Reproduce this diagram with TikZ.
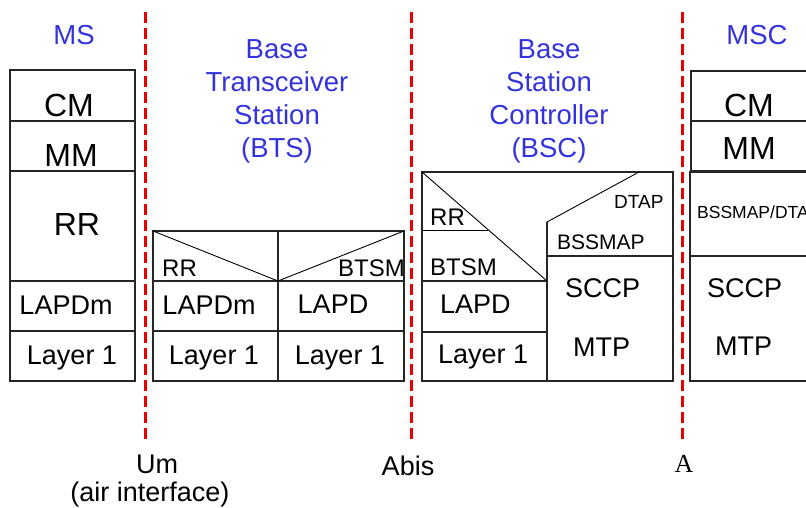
\documentclass[tikz,border=0pt]{standalone}
\usepackage{fontspec}
\setmainfont{Liberation Sans}
\newfontfamily\serifA{Liberation Serif}
\definecolor{ttlblue}{RGB}{51,51,221}
\definecolor{ifred}{RGB}{235,0,0}

\begin{document}
\begin{tikzpicture}[x=1pt, y=-1pt,
    stack/.style={draw=black!85, line width=1.2pt},
    slant/.style={draw=black, line width=0.9pt},
    iface/.style={draw=ifred, line width=3pt, dash pattern=on 11pt off 5pt},
    ttl/.style={text=ttlblue, inner sep=0pt, align=center, font=\fontsize{27.5}{33}\selectfont},
    lblbig/.style={anchor=base, inner sep=0pt, font=\fontsize{32}{36}\selectfont},
    lblmid/.style={anchor=base, inner sep=0pt, font=\fontsize{27}{30}\selectfont},
    lblsmall/.style={anchor=base, inner sep=0pt, font=\fontsize{24}{28}\selectfont},
    lbltiny/.style={anchor=base, inner sep=0pt, font=\fontsize{19}{22}\selectfont}
  ]
\useasboundingbox (0,0) rectangle (806,508);

% Titles
\node[ttl, anchor=base] (ms-ttl) at (74,45) {MS};
\node[ttl, anchor=north] (bts-ttl) at (277,39) {Base\\Transceiver\\Station\\(BTS)};
\node[ttl, anchor=north] (bsc-ttl) at (549,39) {Base\\Station\\Controller\\(BSC)};
\node[ttl, anchor=base] (msc-ttl) at (757,45) {MSC};

% MS stack
\draw[stack] (10,70) rectangle (135,381);
\foreach \y in {121,171,281,331} \draw[stack] (10,\y) -- (135,\y);
\node[lblbig] (ms-cm) at (69,117) {CM};
\node[lblbig] (ms-mm) at (71,167) {MM};
\node[lblbig] (ms-rr) at (77,235) {RR};
\node[lblmid] (ms-lapdm) at (66,314) {LAPDm};
\node[lblmid] (ms-l1) at (72,364) {Layer 1};

% BTS stack
\draw[stack] (153,231) rectangle (404,381);
\draw[stack] (278,231) -- (278,381);
\foreach \y in {281,331} \draw[stack] (153,\y) -- (404,\y);
\draw[slant] (153,231) -- (278,281) -- (404,231);
\node[lblsmall, anchor=base west] (bts-rr) at (162,276) {RR};
\node[lblsmall, anchor=base east] (bts-btsm) at (405,276) {BTSM};
\node[lblmid] (bts-lapdm) at (209,314) {LAPDm};
\node[lblmid] (bts-lapd) at (333,313) {LAPD};
\node[lblmid] (bts-l1a) at (214,364) {Layer 1};
\node[lblmid] (bts-l1b) at (340,364) {Layer 1};

% BSC stack
\draw[stack] (422,172) rectangle (673,381);
\draw[slant] (639,172) -- (547,222);
\draw[stack] (547,222) -- (547,381);
\draw[stack] (547,256) -- (673,256);
\draw[stack] (422,281) -- (547,281) (422,332) -- (547,332);
\draw[slant] (422,230) -- (488,230);
\draw[slant] (422,172) -- (547,281);
\node[lblsmall, anchor=base west] (bsc-rr) at (430,225) {RR};
\node[lblsmall, anchor=base west] (bsc-btsm) at (430,275) {BTSM};
\node[lblmid, anchor=base west] (bsc-lapd) at (440,313) {LAPD};
\node[lblmid, anchor=base west] (bsc-l1) at (438,363) {Layer 1};
\node[lbltiny, anchor=base west] (bsc-dtap) at (614,208) {DTAP};
\node[lbltiny, anchor=base west, font=\fontsize{21}{24}\selectfont] (bsc-bssmap) at (557,249) {BSSMAP};
\node[lblmid, anchor=base west] (bsc-sccp) at (565,297) {SCCP};
\node[lblmid, anchor=base west] (bsc-mtp) at (573,356) {MTP};

% MSC stack
\draw[stack] (691,71) rectangle (815,171);
\draw[stack] (691,121) -- (815,121);
\draw[stack] (690,172) rectangle (815,381);
\draw[stack] (690,256) -- (815,256);
\node[lblbig] (msc-cm) at (749,117) {CM};
\node[lblbig] (msc-mm) at (749,160) {MM};
\node[lbltiny, anchor=base west, font=\fontsize{17.5}{20}\selectfont] (msc-bssmap) at (697,218) {BSSMAP/DTAP};
\node[lblmid, anchor=base west] (msc-sccp) at (707,297) {SCCP};
\node[lblmid, anchor=base west] (msc-mtp) at (715,355) {MTP};

% Interfaces
\foreach \x/\n in {145/um,411/abis,682/a} {
  \coordinate (\n-top) at (\x,12);
  \coordinate (\n-bot) at (\x,440);
  \draw[iface] (\n-top) -- (\n-bot);
}
\node[lblmid] (um-lbl) at (157,473) {Um};
\node[lblmid] (air-lbl) at (150,501) {(air interface)};
\node[lblmid] (abis-lbl) at (408,475) {Abis};
\node[lblmid, font=\serifA\fontsize{26}{30}\selectfont] (a-lbl) at (684,472) {A};

\end{tikzpicture}
\end{document}
